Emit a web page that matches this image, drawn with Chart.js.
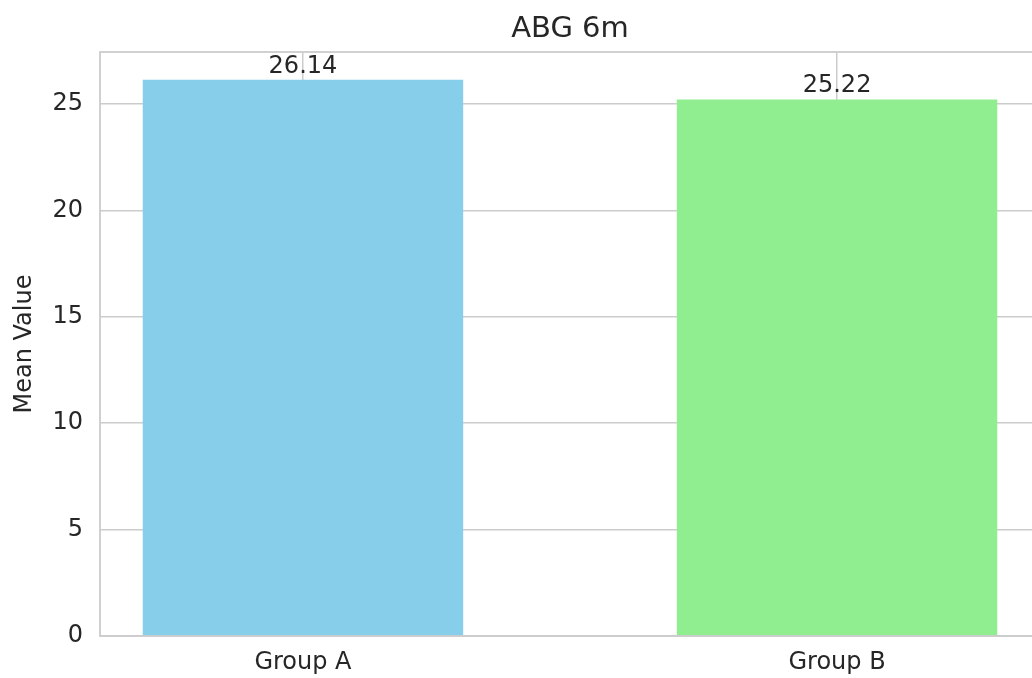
<!DOCTYPE html>
<html>
<head>
<meta charset="utf-8">
<title>ABG 6m</title>
<script src="https://cdn.jsdelivr.net/npm/chart.js@4/dist/chart.umd.min.js"></script>
<style>
  html, body { margin: 0; padding: 0; background: #ffffff; overflow: hidden; }
  canvas { display: block; }
</style>
</head>
<body>
<canvas id="chart" width="1045" height="678"></canvas>
<script>
// Mean value per group
const categories = ['Group A', 'Group B'];
const meanValues = [26.14, 25.22];
const barColors = ['#87ceeb', '#90ee90'];
const yTickValues = [0, 5, 10, 15, 20, 25];
const chartTitle = 'ABG 6m';
const yAxisTitle = 'Mean Value';

const textColor = '#262626';
const gridColor = '#cccccc';
const fontFamily = '"DejaVu Sans", "Liberation Sans", sans-serif';

// Axis limits follow the usual 5% padding around the data
const barWidth = 0.6;
const xPad = 0.05 * ((categories.length - 1) + barWidth);
const xMin = -barWidth / 2 - xPad;
const xMax = (categories.length - 1) + barWidth / 2 + xPad;
const yMax = Math.max(...meanValues) * 1.05;

// Frame around the plotting area (all four spines)
const framePlugin = {
  id: 'frame',
  afterDatasetsDraw(chart) {
    const { ctx, chartArea: a } = chart;
    ctx.save();
    ctx.strokeStyle = gridColor;
    ctx.lineWidth = 1.8;
    ctx.strokeRect(a.left, a.top, a.right - a.left, a.bottom - a.top);
    ctx.restore();
  }
};

// Value labels above each bar
const valueLabelPlugin = {
  id: 'valueLabels',
  afterDraw(chart) {
    const { ctx } = chart;
    const meta = chart.getDatasetMeta(0);
    ctx.save();
    ctx.fillStyle = textColor;
    ctx.font = '24px ' + fontFamily;
    ctx.textAlign = 'center';
    ctx.textBaseline = 'alphabetic';
    meta.data.forEach((bar, i) => {
      ctx.fillText(meanValues[i].toFixed(2), bar.x, bar.y - 7);
    });
    ctx.restore();
  }
};

new Chart(document.getElementById('chart'), {
  type: 'bar',
  data: {
    datasets: [{
      data: meanValues.map((v, i) => ({ x: i, y: v })),
      backgroundColor: barColors,
      borderWidth: 0,
      barPercentage: barWidth,
      categoryPercentage: 1.0
    }]
  },
  options: {
    responsive: false,
    animation: false,
    devicePixelRatio: 1,
    layout: { padding: { top: 0, right: 5, bottom: 0, left: 0 } },
    plugins: {
      legend: { display: false },
      tooltip: { enabled: false },
      title: {
        display: true,
        text: chartTitle,
        fullSize: false,
        color: textColor,
        font: { family: fontFamily, size: 29, weight: 'normal', lineHeight: 1.2 },
        padding: { top: 12, bottom: 5.2 }
      }
    },
    scales: {
      x: {
        type: 'linear',
        min: xMin,
        max: xMax,
        offset: false,
        afterBuildTicks(scale) {
          scale.ticks = categories.map((c, i) => ({ value: i }));
        },
        afterFit(scale) { scale.height = 42; },
        grid: {
          display: true,
          offset: false,
          color: gridColor,
          lineWidth: 1.5,
          drawTicks: false
        },
        border: { display: false },
        ticks: {
          color: textColor,
          padding: 12,
          maxRotation: 0,
          autoSkip: false,
          font: { family: fontFamily, size: 24 },
          callback: (value) => categories[value]
        }
      },
      y: {
        type: 'linear',
        min: 0,
        max: yMax,
        afterBuildTicks(scale) {
          scale.ticks = yTickValues.map(v => ({ value: v }));
        },
        afterFit(scale) { scale.width = 100; },
        grid: {
          display: true,
          color: gridColor,
          lineWidth: 1.5,
          drawTicks: false
        },
        border: { display: false },
        ticks: {
          color: textColor,
          padding: 17,
          font: { family: fontFamily, size: 24 }
        },
        title: {
          display: true,
          text: yAxisTitle,
          color: textColor,
          font: { family: fontFamily, size: 24, lineHeight: 1.2 },
          padding: { top: 10, bottom: 0 }
        }
      }
    }
  },
  plugins: [framePlugin, valueLabelPlugin]
});
</script>
</body>
</html>
